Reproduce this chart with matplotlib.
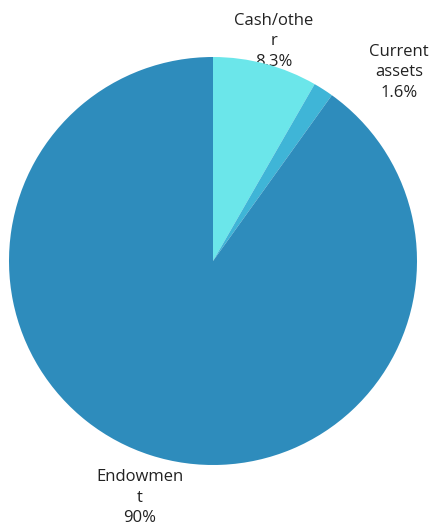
import matplotlib
matplotlib.use("Agg")
import matplotlib.pyplot as plt

categories = ["Cash/othe\nr", "Current\nassets", "Endowmen\nt"]
values = [8.3, 1.6, 90.1]
pct_labels = ["8.3%", "1.6%", "90%"]
colors = ["#6be6ea", "#3fb5d7", "#2e8cbc"]
# label anchor positions (in pie-radius units)
label_pos = [(0.299, 1.078), (0.912, 0.926), (-0.360, -1.160)]

fig = plt.figure(figsize=(4.32, 5.27), dpi=100)
ax = fig.add_axes([0, 0, 1, 1])
wedges, _ = ax.pie(values, colors=colors, startangle=90, counterclock=False,
                   radius=1.0, wedgeprops=dict(linewidth=0))
for w in wedges:
    w.set_zorder(3)
for (x, y), c, p in zip(label_pos, categories, pct_labels):
    ax.text(x, y, c + "\n" + p, ha="center", va="center", fontsize=12,
            family="Open Sans", color="#222222", linespacing=1.38, zorder=1)
ax.set_aspect("auto")
ax.set_xlim(-213 / 204, (432 - 213) / 204)
ax.set_ylim(-266 / 204, 261 / 204)
ax.axis("off")
fig.savefig("out.png", dpi=100)
